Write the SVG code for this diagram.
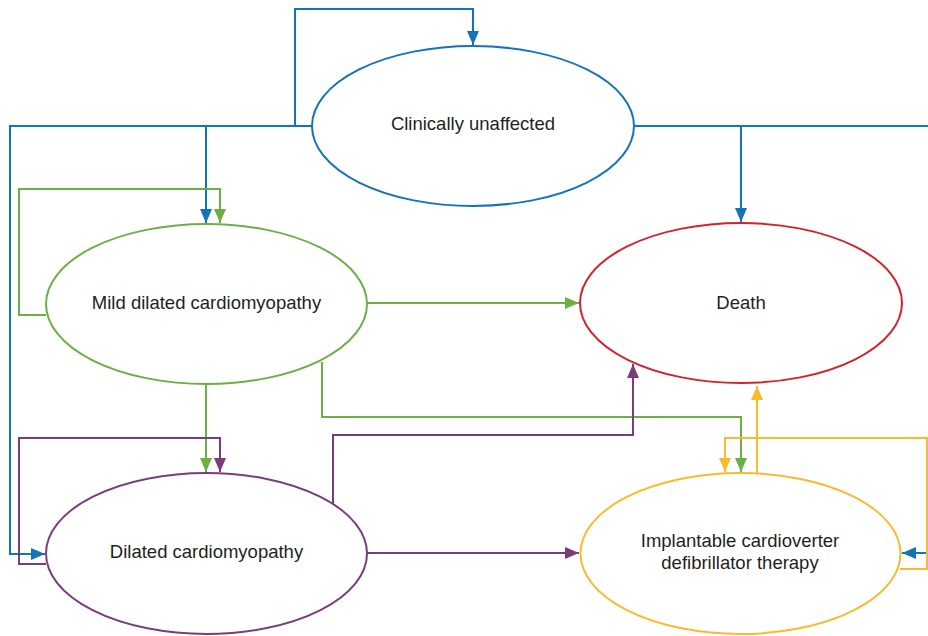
<svg xmlns="http://www.w3.org/2000/svg" width="928" height="636" viewBox="0 0 928 636">
<defs>
<style>
.node{fill:#fff;stroke-width:2}
.lbl{font-family:"Liberation Sans",Arial,Helvetica,sans-serif;font-size:18.5px;fill:#231f20;text-anchor:middle}
.c{fill:none;stroke-width:2}
.blue{stroke:#1473b9}
.green{stroke:#6cb043}
.purple{stroke:#7b3c7d}
.yellow{stroke:#f9bb2d}
</style>
<marker id="mb" markerWidth="14" markerHeight="12" refX="14" refY="6" orient="auto" markerUnits="userSpaceOnUse"><path d="M0,0 L14,6 L0,12 Z" fill="#1473b9"/></marker>
<marker id="mg" markerWidth="14" markerHeight="12" refX="14" refY="6" orient="auto" markerUnits="userSpaceOnUse"><path d="M0,0 L14,6 L0,12 Z" fill="#6cb043"/></marker>
<marker id="mp" markerWidth="14" markerHeight="12" refX="14" refY="6" orient="auto" markerUnits="userSpaceOnUse"><path d="M0,0 L14,6 L0,12 Z" fill="#7b3c7d"/></marker>
<marker id="my" markerWidth="14" markerHeight="12" refX="14" refY="6" orient="auto" markerUnits="userSpaceOnUse"><path d="M0,0 L14,6 L0,12 Z" fill="#f9bb2d"/></marker>
</defs>
<rect width="928" height="636" fill="#fff"/>
<g id="connectors">
<path class="c blue" d="M295,126 V9 H473 V45" marker-end="url(#mb)"/>
<path class="c blue" d="M312,126 H10 V554 H45" marker-end="url(#mb)"/>
<path class="c blue" d="M206,126 V223" marker-end="url(#mb)"/>
<path class="c blue" d="M634,126 H928"/>
<path class="c blue" d="M741,126 V222" marker-end="url(#mb)"/>
<path class="c blue" d="M928,553 H902" marker-end="url(#mb)"/>
<path class="c green" d="M46,315 H19 V189 H220 V223" marker-end="url(#mg)"/>
<path class="c green" d="M367,303 H579" marker-end="url(#mg)"/>
<path class="c green" d="M322,362 V417 H741 V472" marker-end="url(#mg)"/>
<path class="c green" d="M206,384 V472" marker-end="url(#mg)"/>
<path class="c purple" d="M46,564 H19 V438 H220 V472" marker-end="url(#mp)"/>
<path class="c purple" d="M333,504 V435 H633 V364" marker-end="url(#mp)"/>
<path class="c purple" d="M367,553 H579" marker-end="url(#mp)"/>
<path class="c yellow" d="M757,473 V386" marker-end="url(#my)"/>
<path class="c yellow" d="M900,569 H927 V438 H725 V472" marker-end="url(#my)"/>
</g>
<g id="clinically-unaffected">
<ellipse class="node blue" cx="473" cy="126" rx="161" ry="80"/>
<text class="lbl" x="473" y="130">Clinically unaffected</text>
</g>
<g id="mild-dcm">
<ellipse class="node green" cx="206.5" cy="304" rx="160.5" ry="80"/>
<text class="lbl" x="206.5" y="309">Mild dilated cardiomyopathy</text>
</g>
<g id="death">
<ellipse class="node" stroke="#d2232a" cx="741" cy="303" rx="161" ry="80"/>
<text class="lbl" x="741" y="309">Death</text>
</g>
<g id="dcm">
<ellipse class="node purple" cx="206.5" cy="553.5" rx="160.5" ry="80.5"/>
<text class="lbl" x="206.5" y="558">Dilated cardiomyopathy</text>
</g>
<g id="icd">
<ellipse class="node yellow" cx="740.5" cy="553.5" rx="160" ry="80.5"/>
<text class="lbl" x="740" y="547">Implantable cardioverter</text>
<text class="lbl" x="740" y="569">defibrillator therapy</text>
</g>
</svg>
